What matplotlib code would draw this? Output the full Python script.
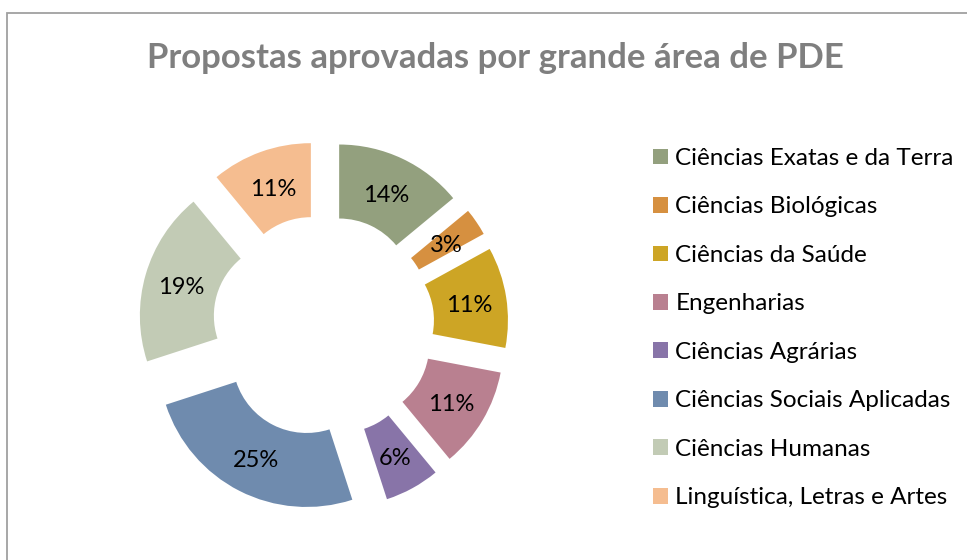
import matplotlib
matplotlib.use('Agg')
import matplotlib.pyplot as plt
from matplotlib.patches import Rectangle

# dados
areas = ['Ciências Exatas e da Terra', 'Ciências Biológicas', 'Ciências da Saúde',
         'Engenharias', 'Ciências Agrárias', 'Ciências Sociais Aplicadas',
         'Ciências Humanas', 'Linguística, Letras e Artes']
percent = [14, 3, 11, 11, 6, 25, 19, 11]
cores = ['#93A07E', '#D69040', '#CDA525', '#B98090',
         '#8874A8', '#6F8BAE', '#C2CBB5', '#F5BD90']

W, H = 967, 560
fig = plt.figure(figsize=(W/100, H/100), dpi=100)
plt.rcParams['font.family'] = ['Lato', 'DejaVu Sans']

# moldura
fig.patches.append(Rectangle((7/W, -0.1), 1.2, (H-12.5)/H + 0.1, transform=fig.transFigure,
                             fill=False, edgecolor='#a0a0a0', linewidth=1.3))

fig.text(495/W, 1 - 58/H, 'Propostas aprovadas por grande área de PDE',
         ha='center', va='center', fontsize=25, fontweight='bold', color='#7f7f7f')

# rosca
cx, cy, R = 323.4, 234, 148
ax = fig.add_axes([(cx - 1.25*R)/W, (cy - 1.25*R)/H, 2.5*R/W, 2.5*R/H])
wedges, texts, autotexts = ax.pie(percent, colors=cores, startangle=90, counterclock=False,
                                  explode=[0.25]*len(percent), radius=1,
                                  wedgeprops=dict(width=0.5, linewidth=0),
                                  autopct='%d%%', pctdistance=0.75,
                                  textprops=dict(fontsize=17, color='black'))
for t in autotexts:
    x, y = t.get_position()
    t.set_position((x, y - 0.02))
ax.set_xlim(-1.25, 1.25)
ax.set_ylim(-1.25, 1.25)
ax.axis('off')

fig.legend(wedges, areas, loc='upper left', bbox_to_anchor=(653/W, 1 - 148/H),
           frameon=False, fontsize=17.5, handlelength=0.62, handleheight=0.62,
           handletextpad=0.3, labelspacing=1.13, borderpad=0, borderaxespad=0)

plt.savefig('out.png', dpi=100)
